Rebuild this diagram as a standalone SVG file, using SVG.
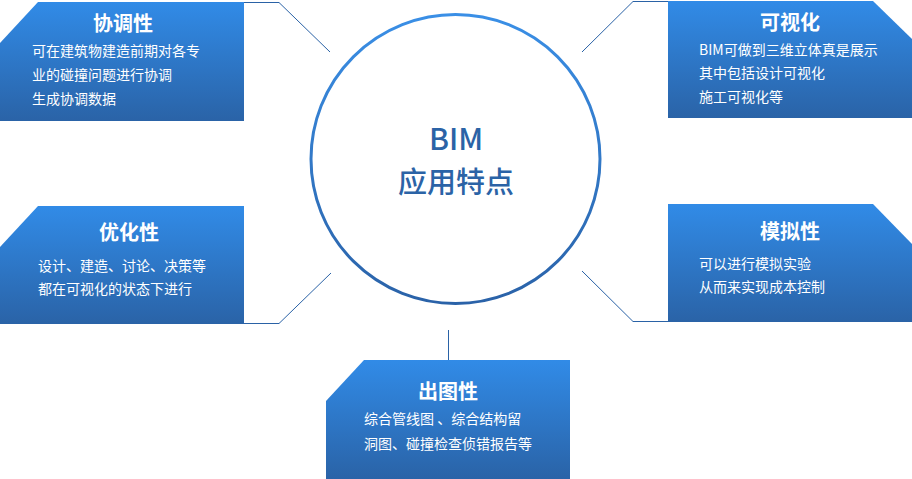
<svg xmlns="http://www.w3.org/2000/svg" width="912" height="479" viewBox="0 0 912 479">
<defs>
<linearGradient id="boxg" x1="0" y1="0" x2="0" y2="1">
<stop offset="0" stop-color="#318be7"/>
<stop offset="1" stop-color="#2a63a7"/>
</linearGradient>
<linearGradient id="ring" x1="0" y1="0" x2="0" y2="1">
<stop offset="0" stop-color="#3a8fe6"/>
<stop offset="1" stop-color="#2a62a8"/>
</linearGradient>
<style>
.box{fill:url(#boxg)}
.title{font-family:"Noto Sans CJK SC","Noto Sans",sans-serif;font-size:20px;font-weight:bold;fill:#ffffff;text-anchor:middle}
.body{font-family:"Noto Sans CJK SC","Noto Sans",sans-serif;font-size:14px;fill:#ffffff}
.conn{fill:none;stroke:#2a62a6;stroke-width:1}
.center{font-family:"Noto Sans CJK SC","Noto Sans",sans-serif;font-size:30px;font-weight:500;fill:#2b63a6;text-anchor:middle}
</style>
</defs>
<rect width="912" height="479" fill="#ffffff"/>
<g id="connectors">
<polyline class="conn" points="244,2.5 279,2.5 330,52"/>
<polyline class="conn" points="668,1.5 633,1.5 582,52"/>
<polyline class="conn" points="244,323.5 279,323.5 331,273"/>
<polyline class="conn" points="668,321.5 633,321.5 582,271"/>
<line class="conn" x1="448.5" y1="330" x2="448.5" y2="360"/>
</g>
<g id="center">
<circle cx="455.5" cy="159" r="144.5" fill="#ffffff" stroke="url(#ring)" stroke-width="3"/>
<text class="center" x="456" y="150">BIM</text>
<text class="center" x="456" y="193" style="font-size:29px">应用特点</text>
</g>
<g id="node-xietiao">
<path class="box" d="M38,2 L244,2 L244,121 L0,121 L0,43 Z"/>
<text class="title" x="123" y="31">协调性</text>
<text class="body" x="32" y="56">可在建筑物建造前期对各专</text>
<text class="body" x="32" y="80">业的碰撞问题进行协调</text>
<text class="body" x="32" y="104">生成协调数据</text>
</g>
<g id="node-keshihua">
<path class="box" d="M668,1 L873,1 L912,39 L912,118 L668,118 Z"/>
<text class="title" x="790" y="30">可视化</text>
<text class="body" x="699" y="55">BIM可做到三维立体真是展示</text>
<text class="body" x="699" y="78">其中包括设计可视化</text>
<text class="body" x="699" y="102">施工可视化等</text>
</g>
<g id="node-youhua">
<path class="box" d="M38,206 L244,206 L244,324 L0,324 L0,247 Z"/>
<text class="title" x="129" y="240">优化性</text>
<text class="body" x="38" y="271">设计、建造、讨论、决策等</text>
<text class="body" x="38" y="294">都在可视化的状态下进行</text>
</g>
<g id="node-moni">
<path class="box" d="M668,204 L873,204 L912,244 L912,322 L668,322 Z"/>
<text class="title" x="790" y="239">模拟性</text>
<text class="body" x="699" y="269">可以进行模拟实验</text>
<text class="body" x="699" y="292">从而来实现成本控制</text>
</g>
<g id="node-chutu">
<path class="box" d="M364,360 L570,360 L570,479 L326,479 L326,401 Z"/>
<text class="title" x="448" y="399">出图性</text>
<text class="body" x="364" y="424">综合管线图 、综合结构留</text>
<text class="body" x="364" y="449">洞图、碰撞检查侦错报告等</text>
</g>
</svg>
